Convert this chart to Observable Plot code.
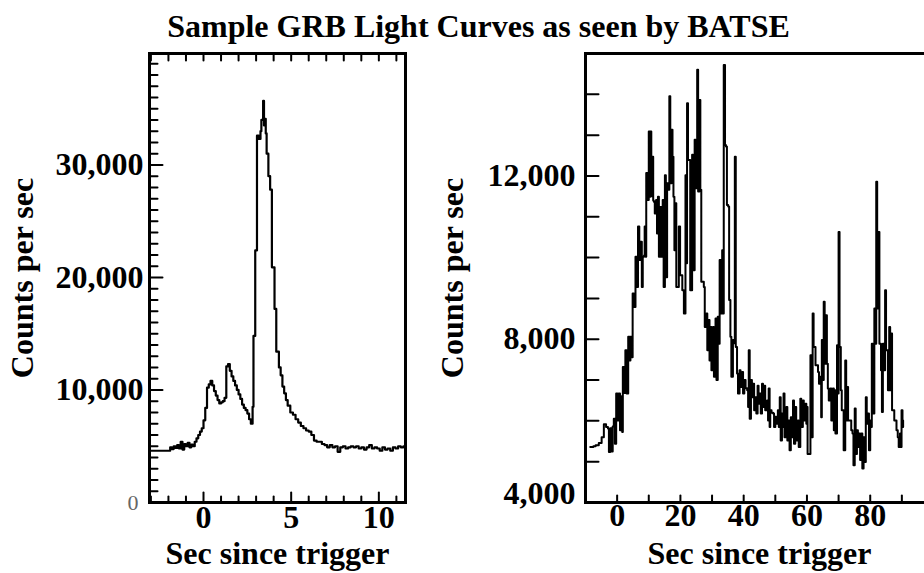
<!DOCTYPE html>
<html><head><meta charset="utf-8">
<script src="https://cdn.jsdelivr.net/npm/d3@7"></script>
<script src="https://cdn.jsdelivr.net/npm/@observablehq/plot@0.6"></script>
<style>
html,body{margin:0;padding:0;overflow:hidden;background:#fff;}
#wrap{position:relative;width:924px;height:573px;overflow:hidden;background:#fff;}
#title{position:absolute;z-index:5;left:0;top:10px;width:957px;text-align:center;font:bold 32px/32px "Liberation Serif","Times New Roman",serif;color:#000;white-space:nowrap;}
.panel{position:absolute;top:0;height:573px;z-index:1;}
.panel svg{font-family:"Liberation Serif","Times New Roman",serif;font-weight:bold;}
</style></head><body>
<div id="wrap">
<div class="panel" id="left" style="left:0;width:420px"></div>
<div class="panel" id="right" style="left:430px;width:520px"></div>
<div id="title"></div>
</div>
<script>
// ---------- Left burst (short bright GRB) ----------
const leftTime = [-3.1,-2.0,-1.9,-1.8,-1.7,-1.6,-1.5,-1.4,-1.3,-1.2,-1.1,-1.0,-0.9,-0.8,-0.7,-0.6,-0.5,-0.4,-0.3,-0.2,-0.1,
 0.0,0.1,0.2,0.3,0.4,0.5,0.6,0.7,0.8,0.9,1.0,1.1,1.2,1.3,1.4,1.5,1.6,1.7,1.8,1.9,2.0,2.1,2.2,2.3,2.4,2.5,2.6,2.7,2.8,
 2.85,2.95,3.05,3.15,3.25,3.3,3.4,3.45,3.5,3.55,3.6,3.7,3.8,3.9,4.05,4.15,4.3,4.4,4.5,4.6,4.7,4.8,4.95,5.1,5.25,5.4,5.55,
 5.7,5.85,6.0,6.15,6.3,6.45,6.6,6.75,6.9,7.05,7.2,7.35,7.5,7.65,7.8,7.95,8.1,8.25,8.4,8.55,8.7,8.85,9.0,9.15,9.3,9.45,
 9.6,9.75,9.9,10.05,10.2,10.35,10.5,10.65,10.8,10.95,11.1,11.25,11.4];
const leftCounts = [4600,4600,4900,4750,5000,4850,5100,4800,5400,4700,5200,5000,5300,4900,5150,5000,5400,5700,6000,6300,6600,
 7300,8400,10200,10500,10800,10400,9900,9500,9100,8800,8900,9000,9300,12100,12300,11700,11200,10800,10400,10000,9600,9200,8700,8400,8200,7900,7400,7000,8500,
 14800,22400,32600,32300,33000,34000,35700,33500,34100,32800,31000,29000,27800,20900,17200,13400,12000,11300,10300,9700,9100,8600,8000,7800,7400,7100,6800,
 6600,6400,6300,6000,5500,5400,5400,5200,5100,4900,5100,4900,5000,4500,4900,5000,4800,4900,5000,4900,5000,4800,4900,4700,4900,5100,
 4800,4900,4800,4600,4900,4700,4800,4600,4900,4800,5000,4900,5000];
const leftXDomain = [-3.08, 11.52];
const leftYDomain = [0, 39900];
const leftXLabels = [0, 5, 10];
const leftYLabels = [10000, 20000, 30000];
const leftZeroLabel = [0];

// ---------- Right burst (long, multi-peaked GRB) ----------
const rightTime = [-8.5,-7.5,-6.8,-5.8,-4.9,-4.2,-3.5,-2.9,-2.6,-2.2,-1.8,-1.4,-1.05,-0.7,-0.3,0.1,0.5,0.9,1.4,1.6,1.8,2.2,2.6,3.0,3.5,3.9,
 4.2,4.6,4.9,5.3,5.8,6.2,6.6,7.0,7.4,7.8,8.1,8.5,8.7,9.0,9.2,9.6,10.0,10.3,10.5,10.8,11.1,11.4,11.6,11.9,12.3,12.6,12.9,13.2,13.7,14.0,
 14.4,14.7,15.1,15.4,15.8,16.1,16.5,16.8,17.2,17.5,17.8,18.1,18.4,18.7,19.5,19.9,20.3,20.6,21.1,21.6,21.9,22.1,22.4,22.8,23.1,23.7,24.0,
 24.5,24.8,25.3,25.6,26.0,26.3,26.6,27.4,27.7,28.2,28.5,28.9,29.2,29.5,29.8,30.3,30.6,31.1,31.4,31.8,32.1,32.4,32.7,33.2,33.5,33.7,34.1,
 34.4,34.7,35.1,35.4,35.8,36.1,36.6,36.9,37.2,37.5,37.9,38.2,38.7,39.0,39.5,39.8,40.2,40.6,41.1,41.4,41.6,41.9,42.3,42.6,43.0,43.3,43.7,
 44.0,44.4,44.7,45.1,45.4,45.8,46.1,46.5,46.8,47.4,47.7,47.9,48.2,48.4,48.8,49.3,49.6,50.0,50.3,50.8,51.1,51.4,51.7,52.1,52.4,52.6,52.9,
 53.5,53.8,54.2,54.5,54.9,55.2,55.6,55.9,56.3,56.6,57.1,57.4,57.9,58.2,58.7,59.0,59.5,59.8,60.0,60.2,61.1,61.4,61.8,62.1,62.4,62.7,63.5,
 63.8,64.2,64.5,64.7,65.0,65.3,65.6,66.0,66.3,66.6,66.9,67.4,67.7,68.2,68.5,68.7,69.0,69.5,69.8,70.0,70.3,70.7,71.0,71.3,71.6,72.1,72.4,
 72.7,73.0,73.7,74.0,74.4,74.7,75.1,75.4,75.8,76.1,76.5,76.8,77.2,77.5,77.9,78.2,78.6,78.9,79.3,79.6,80.0,80.3,80.5,80.8,81.3,81.6,81.9,
 82.2,82.6,82.9,83.4,83.7,84.0,84.3,84.7,85.0,85.3,85.6,86.0,86.3,86.6,86.9,87.3,87.6,88.0,88.3,88.7,89.0,89.4,89.7,89.9,90.2,90.4];
const rightCounts = [5360,5380,5400,5460,5600,5920,5850,5810,5240,5820,5250,5860,6050,5440,6670,6010,6670,5770,6600,5730,7320,6680,7730,6670,8060,7480,
 8060,7560,9120,8790,10020,9280,10760,9940,10390,9280,10020,10050,10760,10020,12070,11410,13090,11490,13090,11500,12470,11400,11370,11080,11410,10590,11490,10020,11240,10020,
 11410,9280,12020,9520,11820,11660,13950,11820,13130,12470,11490,10180,11330,9280,10760,9570,9570,9200,8630,12020,9860,13780,12390,12390,9200,12520,9690,
 12890,11700,14600,11620,13860,11660,9410,9280,8300,8630,7730,8470,7480,8300,7240,8300,7080,8510,7000,8550,7890,9940,8630,10180,8630,14720,12760,
 12720,11290,11250,8960,8060,7080,7980,7900,12470,7810,7160,6670,7240,6830,7200,6670,7000,6800,6750,6340,7730,6050,7000,6580,6910,6260,6580,
 6180,6860,6420,6670,6180,6910,6340,6860,6260,6500,6010,6790,5850,6260,6200,6180,5850,6100,5930,6260,5850,6580,5520,6180,5850,6670,5600,
 6340,5520,6010,5280,6090,5600,6500,5440,6340,5520,6010,5360,6540,5850,6500,6010,6420,5930,6340,5190,7610,5600,8630,7810,7810,7360,7200,
 6910,7080,6090,7980,7000,8920,7400,8590,7400,6790,6500,6790,6010,6790,5770,6750,5690,7850,6670,10630,7810,6750,6260,6260,5280,7480,6010,
 6830,6010,6010,5770,5690,4910,6300,5190,5770,5360,5690,5040,5690,4830,5600,4990,6580,5930,6180,5280,6010,5850,7890,6180,8750,7890,11860,
 8750,10630,7890,7240,6220,7890,7240,9200,7730,7730,6750,8300,6750,8140,6260,6260,6010,6010,5770,5600,5360,5690,5360,6260,5850,6010];
const rightXDomain = [-10, 100];
const rightYDomain = [4000, 15000];
const rightXTicks = [0, 10, 20, 30, 40, 50, 60, 70, 80, 90];
const rightXLabels = [0, 20, 40, 60, 80];
const rightYLabels = [8000, 12000];
const rightBottomLabel = [4000];

const titleText = "Sample GRB Light Curves as seen by BATSE";
const yLabel = "Counts per sec";
const xLabel = "Sec since trigger";

// ---------- drawing ----------
const fmt = d3.format(",");
const H = 573, MT = 53, MB = 71;
const FONT = 32;
const spike = {draw(context, l) { context.moveTo(0, 0); context.lineTo(0, -l); }};
// inward-pointing tick helpers built on Plot.vector (frame-anchored, scale-positioned)
const ticksLeft = (data, len) => Plot.vector(data, {y: d => d, frameAnchor: "left", rotate: 90, length: len, anchor: "start", shape: spike, stroke: "black", strokeWidth: 2});
const ticksBottom = (data, len) => Plot.vector(data, {x: d => d, frameAnchor: "bottom", rotate: 0, length: len, anchor: "start", shape: spike, stroke: "black", strokeWidth: 2});
const ticksTop = (data, len) => Plot.vector(data, {x: d => d, frameAnchor: "top", rotate: 180, length: len, anchor: "start", shape: spike, stroke: "black", strokeWidth: 2});

const leftData = leftTime.map((t, i) => ({t, c: leftCounts[i]}));
const rightData = rightTime.map((t, i) => ({t, c: rightCounts[i]}));

const leftYMinor = d3.range(1000, 40000, 1000).filter(v => !leftYLabels.includes(v));
const leftXTicks = d3.range(-3, 12, 1);

const leftPlot = Plot.plot({
  width: 420, height: H, marginLeft: 149, marginRight: 15, marginTop: MT, marginBottom: MB,
  x: {domain: leftXDomain, label: null},
  y: {domain: leftYDomain, label: null},
  style: {background: "white", maxWidth: "none", color: "black"},
  marks: [
    Plot.line(leftData, {x: "t", y: "c", curve: "step-after", stroke: "black", strokeWidth: 2.2, clip: true}),
    ticksLeft(leftYMinor, 8),
    ticksLeft(leftYLabels, 13),
    ticksBottom(leftXTicks.filter(v => !leftXLabels.includes(v)), 6),
    ticksBottom(leftXLabels, 10),
    ticksTop(leftXTicks, 7),
    Plot.frame({strokeWidth: 3}),
    Plot.axisY(leftYLabels, {tickSize: 0, tickPadding: 6, fontSize: FONT, tickFormat: fmt,
      label: yLabel, labelAnchor: "center", labelOffset: 139, labelArrow: "none"}),
    Plot.axisY(leftZeroLabel, {tickSize: 0, tickPadding: 11, fontSize: 22, fontWeight: "normal", fill: "#666", label: null}),
    Plot.axisX(leftXLabels, {tickSize: 0, tickPadding: 3, fontSize: FONT,
      label: xLabel, labelAnchor: "center", labelOffset: 61, labelArrow: "none"})
  ]
});
document.getElementById("left").appendChild(leftPlot);

const rightYMinor = d3.range(5000, 15000, 1000);
const rightPlot = Plot.plot({
  width: 520, height: H, marginLeft: 155, marginRight: 17, marginTop: MT, marginBottom: MB,
  x: {domain: rightXDomain, label: null},
  y: {domain: rightYDomain, label: null},
  style: {background: "white", maxWidth: "none", color: "black"},
  marks: [
    Plot.line(rightData, {x: "t", y: "c", curve: "step-after", stroke: "black", strokeWidth: 2, clip: true}),
    ticksLeft(rightYMinor, 13),
    ticksBottom(rightXTicks, 7),
    Plot.frame({strokeWidth: 3}),
    Plot.axisY(rightYLabels, {tickSize: 0, tickPadding: 10, fontSize: FONT, tickFormat: fmt,
      label: yLabel, labelAnchor: "center", labelOffset: 145, labelArrow: "none"}),
    Plot.axisY(rightBottomLabel, {tickSize: 0, tickPadding: 10, fontSize: FONT, tickFormat: fmt, dy: -9, label: null}),
    Plot.axisX(rightXLabels, {tickSize: 0, tickPadding: 1, fontSize: FONT,
      label: xLabel, labelAnchor: "center", labelOffset: 61, labelArrow: "none"})
  ]
});
document.getElementById("right").appendChild(rightPlot);
document.getElementById("title").textContent = titleText;
</script>
</body></html>
